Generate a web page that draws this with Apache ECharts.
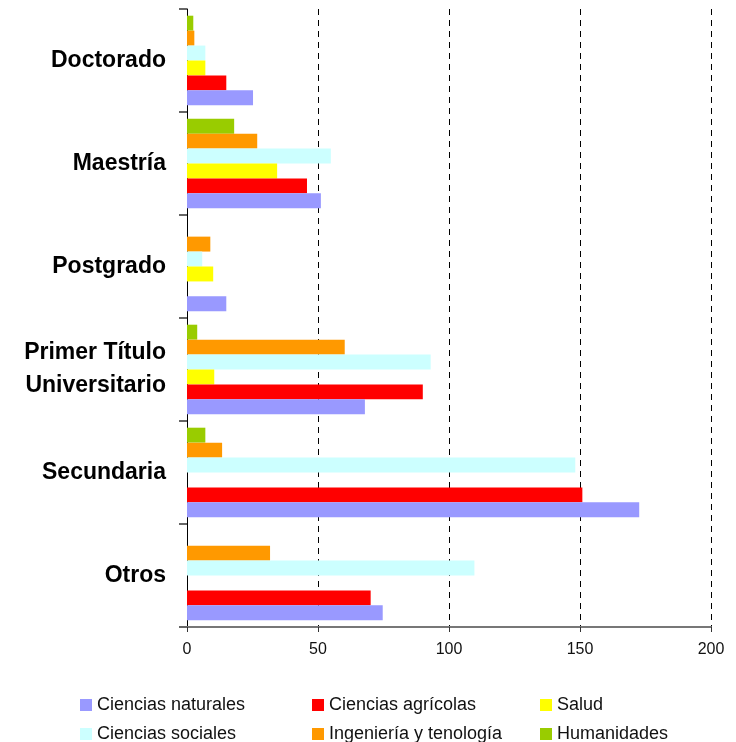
<!DOCTYPE html>
<html><head><meta charset="utf-8">
<script src="https://cdn.jsdelivr.net/npm/echarts@6/dist/echarts.min.js"></script>
<style>html,body{margin:0;padding:0;background:#fff}#c{width:736px;height:742px}</style>
</head><body><div id="c"></div>
<script>
const categories = ['Doctorado', 'Maestría', 'Postgrado', 'Primer Título\nUniversitario', 'Secundaria', 'Otros'];
const seriesNames = ['Ciencias naturales', 'Ciencias agrícolas', 'Salud', 'Ciencias sociales', 'Ingeniería y tenología', 'Humanidades'];
const cienciasNaturales = [25.2, 51.1, 15.0, 67.9, 172.6, 74.7];
const cienciasAgricolas = [15.0, 45.8, 0, 90.0, 150.9, 70.1];
const salud = [7.0, 34.4, 10.0, 10.4, 0, 0];
const cienciasSociales = [7.0, 54.9, 5.8, 93.0, 148.2, 109.7];
const ingenieria = [2.8, 26.8, 8.9, 60.2, 13.4, 31.7];
const humanidades = [2.4, 18.0, 0, 3.9, 7.0, 0];
const xTicks = [0, 50, 100, 150, 200];
const colors = ['#9999FF', '#FF0000', '#FFFF00', '#CCFFFF', '#FF9900', '#99CC00'];
const values = [cienciasNaturales, cienciasAgricolas, salud, cienciasSociales, ingenieria, humanidades];

const chart = echarts.init(document.getElementById('c'));
const legendPos = [[80, 696], [312, 696], [540, 696], [80, 725], [312, 725], [540, 725]];
const order = [5, 4, 3, 2, 1, 0];
chart.setOption({
  animation: false,
  grid: {left: 187, right: 25, top: 9, bottom: 115, containLabel: false},
  legend: seriesNames.map((n, i) => ({
    data: [n], left: legendPos[i][0], top: legendPos[i][1],
    itemWidth: 12, itemHeight: 12, itemGap: 0, icon: 'rect',
    padding: 0,
    textStyle: {fontFamily: 'Liberation Sans, Arial', fontSize: 18, color: '#111'}
  })),
  xAxis: {
    type: 'value', min: xTicks[0], max: xTicks[xTicks.length - 1], interval: 50,
    axisLine: {show: true, lineStyle: {color: '#777', width: 2}},
    axisTick: {show: true, length: 5, lineStyle: {color: '#333'}},
    axisLabel: {fontFamily: 'Liberation Sans, Arial', fontSize: 16, color: '#111', margin: 15},
    splitLine: {show: true, lineStyle: {color: '#000', type: [6, 5], width: 1}}
  },
  yAxis: {
    type: 'category', data: categories, inverse: true,
    axisLine: {show: true, lineStyle: {color: '#000', width: 1}},
    axisTick: {show: true, length: 8, lineStyle: {color: '#666', width: 2}},
    axisLabel: {fontFamily: 'Liberation Sans, Arial', fontSize: 23, fontWeight: 'bold', color: '#000', margin: 21, lineHeight: 33, align: 'right'},
    splitLine: {show: false}
  },
  series: order.map(i => ({
    name: seriesNames[i], type: 'bar', data: values[i],
    itemStyle: {color: colors[i]},
    barGap: '0%', barCategoryGap: '13%'
  }))
});
</script></body></html>
